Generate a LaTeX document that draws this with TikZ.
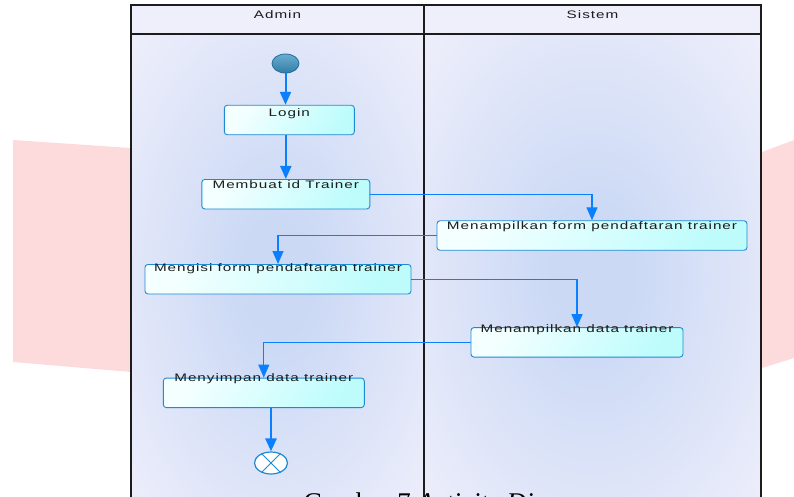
\documentclass[tikz,border=0pt]{standalone}
\usepackage{fontspec}
\usepackage{tikz}
\usetikzlibrary{arrows.meta,positioning,shapes.geometric}
\newfontfamily\umlfont[FakeStretch=1.4,LetterSpace=9]{Liberation Sans}
\newfontfamily\capfont{Liberation Serif}
\definecolor{flowblue}{HTML}{0A80FF}
\definecolor{actborder}{HTML}{1E8AD2}
\definecolor{actlight}{HTML}{F4FFFF}
\definecolor{actcyan}{HTML}{BEFCFC}
\definecolor{laneedge}{HTML}{EFEFFB}
\definecolor{lanemid}{HTML}{CBD9F5}
\definecolor{lanedark}{HTML}{1C1C1C}
\definecolor{wmpink}{HTML}{FDDBDC}
\definecolor{startblue}{HTML}{3A92C2}
\definecolor{startdark}{HTML}{1F6E9E}
\pgfdeclareradialshading{lanebg}{\pgfpoint{0bp}{0bp}}{color(0bp)=(lanemid); color(6bp)=(lanemid); color(36bp)=(laneedge); color(50bp)=(laneedge)}
\tikzset{act/.style={rectangle,rounded corners=3pt,draw=actborder,line width=0.9pt,
  left color=actlight,right color=actcyan,shading angle=60,inner sep=0pt,
  minimum height=29.5pt,text height=#1,text depth={29.5pt-#1},text=lanedark,
  font=\umlfont\fontsize{10.9}{12}\selectfont}}
\tikzset{flow/.style={draw=flowblue,line width=1.3pt,-{Triangle[width=11pt,length=13pt]}}}
\tikzset{lanetitle/.style={text=lanedark,font=\umlfont\fontsize{10.9}{12}\selectfont}}

\begin{document}
\begin{tikzpicture}[x=1pt,y=-1pt]
\useasboundingbox (0,0) rectangle (794,497);
%
% watermark band and swimlanes
{
\fill[wmpink] (13,140) -- (131,148) -- (762,152) -- (794,140) -- (794,358) -- (762,368) -- (131,372) -- (13,362) -- cycle;
\shade[shading=lanebg] (131,34) rectangle (424,520);
\shade[shading=lanebg] (424,34) rectangle (761,520);
\fill[laneedge] (131,5) rectangle (761,34);
\draw[lanedark,line width=1.2pt] (131,520) -- (131,5) -- (761,5) -- (761,520);
\draw[lanedark,line width=1.2pt] (131,34) -- (761,34);
\draw[lanedark,line width=1.2pt] (424,5) -- (424,520);
\node (hadmin) [lanetitle] at (277.5,15) {Admin};
\node (hsistem) [lanetitle] at (592.5,15) {Sistem};
}
%
% start and actions
{
\node (start) [ellipse,draw=startdark,line width=0.8pt,top color=startblue!75!white,bottom color=startblue!85!black,minimum width=27pt,minimum height=19pt,inner sep=0pt] at (285.5,63.5) {};
\node (login) [act=11pt,minimum width=130pt] at (289.3,120) {Login};
\node (mb) [act=9.5pt,minimum width=168pt] at (285.8,194.2) {Membuat id Trainer};
\node (mf) [act=8.5pt,minimum width=310pt] at (592,235.5) {Menampilkan form pendaftaran trainer};
\node (mg) [act=7.5pt,minimum width=266pt] at (278,279.2) {Mengisi form pendaftaran trainer};
\node (md) [act=5pt,minimum width=212pt] at (577,342.3) {Menampilkan data trainer};
\node (ms) [act=3.5pt,minimum width=201pt] at (263.8,392.8) {Menyimpan data trainer};
\node (end) [ellipse,draw=actborder,line width=1.2pt,fill=white,minimum width=33pt,minimum height=22pt,inner sep=0pt] at (271,463) {};
\draw[actborder,line width=1pt] (end.135) -- (end.-45) (end.45) -- (end.-135);
}
%
% flows
{
\draw[flow,line width=2pt] (start) -- (start |- login.north);
\draw[flow,line width=2pt] (mb.north |- login.south) -- (mb.north);
\draw[flow] (mb.east) -| (mf.north);
\draw[flow] (mf.west) -| (mg.north);
\draw[flow] (mg.east) -| (md.north);
\draw[flow] (md.west) -| (ms.north);
\draw[flow,line width=2.6pt] (end |- ms.south) -- (end);
}
%
\node (cap) [anchor=base west,font=\capfont\fontsize{27}{30}\selectfont] at (300,511) {Gambar 7 \textit{Activity Diagram}};
\end{tikzpicture}
\end{document}
